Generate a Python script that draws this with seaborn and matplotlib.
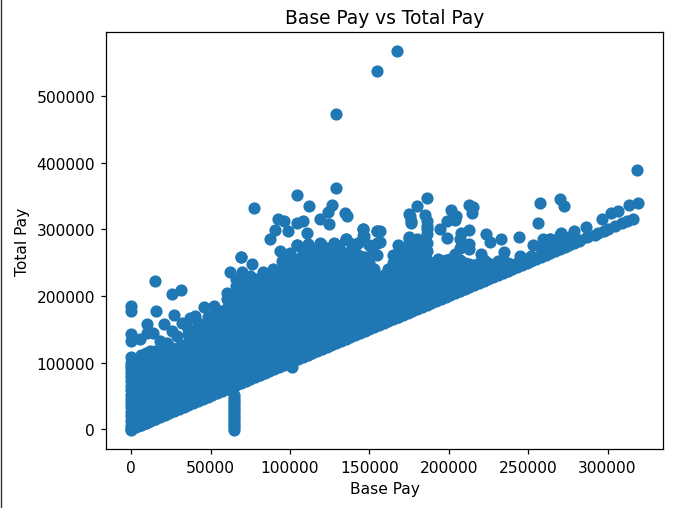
# Base Pay vs Total Pay scatter (in thousands)
import pandas as pd
import matplotlib.pyplot as plt
import seaborn as sns
from matplotlib.lines import Line2D

# lower edge of the cloud, total pay about equal to base pay
edge_pay = [0, 3, 6, 9, 12, 15, 18, 21, 24, 27, 30, 33, 36, 39, 42, 45, 48, 51, 54, 57,
            60, 63, 66, 69, 72, 75, 78, 81, 84, 87, 90, 93, 96, 99, 102, 105, 108, 111,
            114, 117, 120, 123, 126, 129, 132, 135, 138, 141, 144, 147, 150, 153, 156,
            159, 162, 165, 168, 171, 174, 177, 180, 183, 186, 189, 192, 195, 198, 201,
            204, 207, 210, 213, 216, 219, 222, 225, 228, 231, 234, 237, 240, 243, 246,
            249, 252, 255, 258, 261, 264, 267, 270, 273, 276, 279, 282]

# the solid part of the cloud, one list of total pay per base pay column
core_base = [0, 6, 12, 18, 24, 30, 36, 42, 48, 54, 60, 66, 72, 78, 84, 90, 96, 102, 108,
             114, 120, 126, 132, 138, 144, 150, 156, 162, 168, 174, 180, 186, 192, 198,
             204, 210, 216, 222, 228, 234, 240, 246, 252]
core_total = [
    [-1, 5, 13, 20, 26, 33, 39, 46, 52, 59, 65, 72, 78, 85, 91, 95, 100],
    [7, 20, 33, 46, 59, 72, 85, 98, 111],
    [13, 26, 39, 52, 65, 78, 91, 104, 117],
    [20, 33, 46, 59, 72, 85, 98, 111, 120],
    [26, 39, 52, 65, 78, 91, 104, 117, 125],
    [33, 46, 59, 72, 85, 98, 111, 124],
    [39, 52, 65, 78, 91, 104, 117, 130, 143, 150],
    [46, 59, 72, 85, 98, 111, 124, 137, 150, 160],
    [52, 65, 78, 91, 104, 117, 130, 143, 156, 169],
    [59, 72, 85, 98, 111, 124, 137, 150, 163, 175],
    [65, 78, 91, 104, 117, 130, 143, 156, 169, 182, 195, 205],
    [72, 85, 98, 111, 124, 137, 150, 163, 176, 189, 202, 215, 225],
    [78, 91, 104, 117, 130, 143, 156, 169, 182, 195, 208, 221],
    [85, 98, 111, 124, 137, 150, 163, 176, 189, 202, 215, 225],
    [91, 104, 117, 130, 143, 156, 169, 182, 195, 208, 221, 230],
    [98, 111, 124, 137, 150, 163, 176, 189, 202, 215, 228, 236],
    [104, 117, 130, 143, 156, 169, 182, 195, 208, 221, 234, 241],
    [111, 124, 137, 150, 163, 176, 189, 202, 215, 228, 241, 254],
    [117, 130, 143, 156, 169, 182, 195, 208, 221, 234, 247, 260],
    [124, 137, 150, 163, 176, 189, 202, 215, 228, 241, 254, 265],
    [130, 143, 156, 169, 182, 195, 208, 221, 234, 247, 260, 265],
    [137, 150, 163, 176, 189, 202, 215, 228, 241, 254, 265],
    [143, 156, 169, 182, 195, 208, 221, 234, 247, 260],
    [150, 163, 176, 189, 202, 215, 228, 241, 254, 267],
    [156, 169, 182, 195, 208, 221, 234, 247, 260],
    [163, 176, 189, 202, 215, 228, 241, 250],
    [169, 182, 195, 208, 221],
    [176, 189, 202, 215, 228, 241],
    [169, 182, 195, 208, 221, 234, 247, 260],
    [176, 189, 202, 215, 228, 241, 254, 267],
    [182, 195, 208, 221, 234, 247, 260, 273],
    [189, 202, 215, 228, 241, 254, 267, 280, 293, 300],
    [195, 208, 221, 234, 247],
    [202, 215, 228, 241, 254],
    [208, 221, 234, 247, 258],
    [215, 228, 241, 250],
    [221, 234, 247],
    [228, 241, 254],
    [234, 247],
    [241, 254],
    [247],
    [254],
    [260],
]

# second set of columns between the ones above
mid_base = [3, 9, 15, 21, 27, 33, 39, 45, 51, 57, 63, 69, 75, 81, 87, 93, 99, 105, 111,
            117, 123, 129, 135, 141, 147, 153, 159, 165, 171, 177, 183, 189, 195, 201,
            207, 213, 219, 225, 231, 237, 243, 249]
mid_total = [
    [5, 16, 29, 42, 55, 68, 81, 94, 103],
    [10, 23, 36, 49, 62, 75, 88, 101, 114],
    [16, 29, 42, 55, 68, 81, 94, 107, 118],
    [23, 36, 49, 62, 75, 88, 101, 114],
    [29, 42, 55, 68, 81, 94, 107, 120],
    [36, 49, 62, 75, 88, 101, 114, 127],
    [42, 55, 68, 81, 94, 107, 120, 133, 146],
    [49, 62, 75, 88, 101, 114, 127, 140, 153],
    [55, 68, 81, 94, 107, 120, 133, 146, 159, 170],
    [62, 75, 88, 101, 114, 127, 140, 153, 166, 178],
    [68, 81, 94, 107, 120, 133, 146, 159, 172, 185, 198],
    [75, 88, 101, 114, 127, 140, 153, 166, 179, 192, 205, 218],
    [81, 94, 107, 120, 133, 146, 159, 172, 185, 198, 211, 220],
    [88, 101, 114, 127, 140, 153, 166, 179, 192, 205, 218, 227],
    [94, 107, 120, 133, 146, 159, 172, 185, 198, 211, 224, 232],
    [101, 114, 127, 140, 153, 166, 179, 192, 205, 218, 231, 238],
    [107, 120, 133, 146, 159, 172, 185, 198, 211, 224, 237, 246],
    [114, 127, 140, 153, 166, 179, 192, 205, 218, 231, 244, 256],
    [120, 133, 146, 159, 172, 185, 198, 211, 224, 237, 250, 262],
    [127, 140, 153, 166, 179, 192, 205, 218, 231, 244, 257, 264],
    [133, 146, 159, 172, 185, 198, 211, 224, 237, 250, 263],
    [140, 153, 166, 179, 192, 205, 218, 231, 244, 257, 264],
    [146, 159, 172, 185, 198, 211, 224, 237, 250, 263],
    [153, 166, 179, 192, 205, 218, 231, 244, 257, 266],
    [159, 172, 185, 198, 211, 224, 237, 250, 258],
    [166, 179, 192, 205, 218, 231, 240],
    [172, 185, 198, 211, 224, 232],
    [172, 185, 198, 211, 224, 237, 250],
    [179, 192, 205, 218, 231, 244, 257, 264],
    [185, 198, 211, 224, 237, 250, 263, 270],
    [192, 205, 218, 231, 244, 257, 270, 280],
    [198, 211, 224, 237, 250],
    [205, 218, 231, 244, 252],
    [211, 224, 237, 250, 256],
    [218, 231, 244, 254],
    [224, 237, 248],
    [231, 244, 250],
    [237, 250],
    [244, 252],
    [250],
    [250],
    [256],
]

# the narrow column of points at about 65000 base pay
column_base = [65, 65, 65, 65, 65, 65, 65, 65, 65, 65, 65, 65, 65, 65]
column_total = [-1, 3, 7, 11, 15, 19, 23, 27, 31, 35, 39, 43, 47, 51]

# bumps along the top of the cloud
bump_base = [96, 100, 104.6, 108, 111, 115, 119, 123, 127.8, 131, 135, 139, 143, 146, 146.5,
             150, 154.5, 155, 152, 155, 165, 168, 171, 175, 175.5, 176.5, 180, 184, 186,
             193, 204, 220.6, 235, 245, 213, 207]
bump_total = [255, 265, 276, 268, 278, 270, 279, 272, 279, 275, 286, 278, 280, 300, 290,
              276, 280, 298, 268, 262, 262, 276, 272, 288, 320, 310, 285, 280, 305,
              256, 263, 263, 266, 260, 270, 272]

# separate points around the cloud
outlier_base = [167.3, 155, 128.7, 128.7, 104.6, 77.5, 111.7, 126.4, 123.9, 134.6, 135.8,
                118.9, 124.5, 92.6, 96.4, 108.4, 104.6, 90.6, 98.9, 110.9, 87.4, 145.7,
                146, 155, 69.2, 93.7, 104.2, 119.3, 127.9, 135,
                318.4, 319, 313.4, 306.9, 302.3, 296.4, 316, 312, 309, 305, 294, 286.6,
                279, 270, 272.5, 257.6, 256, 186, 179.7, 175, 176, 184.7, 186, 212.8,
                215.3, 214.9, 201.7, 204.4, 203.8, 199, 194.3, 198.6, 207.5, 212.8,
                223.7, 226.2, 233, 244, 175, 168.6, 207, 212.8, 156.6, 156.6, 253, 259.4,
                263.5, 270.8, 282.4, 287,
                0, 0, 0, 0, 0, 14.7, 25.6, 31, 15.5, 26.9, 10, 20.3, 31.9, 37, 40, 45.5,
                51.8, 62.3, 69.4, 76.3, 69.6, 74.8, 83, 89.3, 94.8, 9.9, 13.9, 5.7, 18,
                25.6, 22.4, 28.7, 101,
                258, 264, 270, 276, 264, 270, 288, 292, 298, 300]
outlier_total = [567.6, 538, 472.5, 362, 351, 332, 335, 337, 326, 325, 320,
                 315, 308, 315, 313, 312, 309, 299, 297, 294, 285, 301,
                 290, 297, 259, 267, 276, 278, 278, 286,
                 389, 339, 337, 328, 325, 315, 315, 312, 309, 305, 294, 303,
                 297, 345, 335, 339, 309, 347, 335, 323, 313, 322, 313, 336,
                 333, 325, 329, 320, 314, 313, 300, 287, 295, 299,
                 293, 281, 285, 288, 286, 275, 285, 278, 298, 281, 276, 285,
                 286, 295, 284, 288,
                 185, 178, 142.6, 132.6, 108, 222, 203, 209, 178, 171.6, 157.7, 158, 160, 167.7, 170, 183.6,
                 185, 236, 258, 248, 236, 230, 236, 240, 252.7, 145, 145, 135, 132.6,
                 147.6, 130, 140, 94,
                 270, 275, 280, 288, 286, 292, 290, 292, 298, 300]

base_pay = []
total_pay = []
for pay in edge_pay:
    base_pay.append(pay)
    total_pay.append(pay)
for base, totals in zip(core_base + mid_base, core_total + mid_total):
    for total in totals:
        base_pay.append(base)
        total_pay.append(total)
base_pay += column_base + bump_base + outlier_base
total_pay += column_total + bump_total + outlier_total

df = pd.DataFrame({"BasePay": base_pay, "TotalPay": total_pay}) * 1000

fig = plt.figure(figsize=(676 / 112, 509 / 112), dpi=112)
ax = fig.add_axes([106 / 676, 59 / 509, 557 / 676, 417 / 509])

sns.scatterplot(data=df, x="BasePay", y="TotalPay", color="#1f77b4", s=40,
                edgecolor="#1f77b4", linewidth=1.5, ax=ax)

ax.set_title("Base Pay vs Total Pay")
ax.set_xlabel("Base Pay")
ax.set_ylabel("Total Pay")

# dark edge of the screenshot on the left
fig.add_artist(Line2D([0.7 / 676, 0.7 / 676], [0, 1], color="#333333", linewidth=0.9))

fig.savefig("out.png", dpi=112)
